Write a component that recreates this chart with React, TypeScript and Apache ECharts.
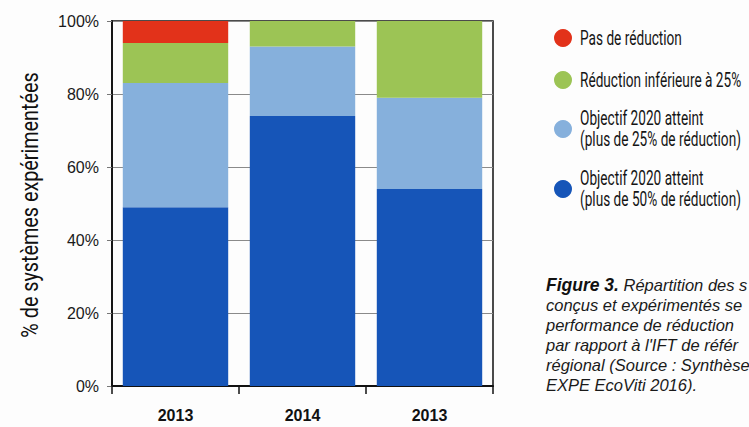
import React, { useEffect, useRef } from "react";
import * as echarts from "echarts";

const categories = ["2013", "2014", "2013"];
const seriesNames = [
  "Objectif 2020 atteint\n(plus de 50% de réduction)",
  "Objectif 2020 atteint\n(plus de 25% de réduction)",
  "Réduction inférieure à 25%",
  "Pas de réduction",
];
const plus50 = [49, 74, 54];
const plus25 = [34, 19, 25];
const moins25 = [11, 7, 21];
const aucune = [6, 0, 0];
const colors = ["#1655b8", "#86b0dc", "#9cc455", "#e2321a"];
const yTicks = [0, 20, 40, 60, 80, 100];
const yAxisTitle = "% de systèmes expérimentées";
const captionLines = [
  "{b|Figure 3.} Répartition des s",
  "conçus et expérimentés se",
  "performance de réduction",
  "par rapport à l'IFT de référ",
  "régional (Source : Synthèse",
  "EXPE EcoViti 2016).",
];

const NARROW = "Roboto, 'Liberation Sans', sans-serif";
const SANS = "'Liberation Sans', Arial, sans-serif";

export default function App() {
  const ref = useRef<HTMLDivElement>(null);
  useEffect(() => {
    if (!ref.current) return;
    const chart = echarts.init(ref.current, undefined, { renderer: "svg" });
    const values = [plus50, plus25, moins25, aucune];

    // legend drawn as graphic (condensed look via scaleX)
    const legendOrder = [3, 2, 1, 0];
    const legendY = [38, 80, 129, 189];
    const legendGraphics: any[] = [];
    legendOrder.forEach((si, k) => {
      legendGraphics.push({
        type: "circle",
        shape: { cx: 563, cy: legendY[k], r: 9 },
        style: { fill: colors[si] },
      });
      legendGraphics.push({
        type: "text",
        x: 580,
        y: legendY[k],
        scaleX: 0.7,
        style: {
          text: seriesNames[si],
          fontFamily: NARROW,
          fontSize: 19.5,
          lineHeight: 21,
          fill: "#151515",
          align: "left",
          verticalAlign: "middle",
        },
      });
    });

    chart.setOption({
      animation: false,
      backgroundColor: "#fdfdfd",
      grid: {
        left: 112,
        right: 256,
        top: 21,
        bottom: 41,
        show: true,
        borderColor: "#111",
        borderWidth: 1.5,
        backgroundColor: "transparent",
      },
      legend: { show: false, data: seriesNames },
      xAxis: {
        type: "category",
        data: categories,
        axisLine: { lineStyle: { color: "#111", width: 1.8 } },
        axisTick: { show: true, length: 8, lineStyle: { color: "#111", width: 1.5 } },
        axisLabel: {
          margin: 21,
          fontFamily: SANS,
          fontWeight: "bold",
          fontSize: 16,
          color: "#111",
        },
      },
      yAxis: {
        type: "value",
        min: 0,
        max: 100,
        interval: 20,
        axisLine: { show: true, lineStyle: { color: "#111", width: 1.8 } },
        axisTick: { show: true, length: 5, lineStyle: { color: "#777" } },
        axisLabel: {
          margin: 13,
          fontFamily: SANS,
          fontSize: 16,
          color: "#1a1a1a",
          formatter: (v: number) => (yTicks.includes(v) ? v + "%" : ""),
        },
        splitLine: { show: true, lineStyle: { color: "#8a8a8a", width: 1 } },
      },
      series: values.map((d, i) => ({
        name: seriesNames[i],
        type: "bar",
        stack: "total",
        data: d,
        barCategoryGap: "17%",
        itemStyle: { color: colors[i] },
      })),
      graphic: [
        ...legendGraphics,
        {
          type: "text",
          x: 30,
          y: 205,
          rotation: Math.PI / 2,
          scaleX: 0.86,
          style: {
            text: yAxisTitle,
            fontFamily: NARROW,
            fontSize: 23,
            fill: "#111",
            align: "center",
            verticalAlign: "middle",
          },
        },
        {
          type: "text",
          x: 546,
          y: 275,
          style: {
            text: captionLines.join("\n"),
            fontFamily: SANS,
            fontStyle: "italic",
            fontSize: 16.5,
            lineHeight: 20,
            fill: "#1a1a1a",
            rich: {
              b: {
                fontFamily: SANS,
                fontStyle: "italic",
                fontWeight: "bold",
                fontSize: 17.5,
                lineHeight: 20,
                fill: "#111",
              },
            },
          },
        },
      ],
    });
    return () => chart.dispose();
  }, []);
  return <div ref={ref} style={{ width: 749, height: 427, position: "absolute", left: 0, top: 0 }} />;
}
